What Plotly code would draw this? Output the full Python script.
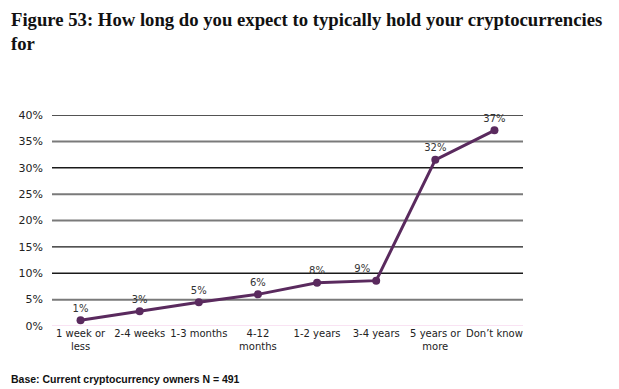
import plotly.graph_objects as go

categories = ["1 week or<br>less", "2-4 weeks", "1-3 months", "4-12<br>months",
              "1-2 years", "3-4 years", "5 years or<br>more", "Don\u2019t know"]
values = [1.1, 2.8, 4.5, 6.0, 8.2, 8.6, 31.5, 37.1]
labels = ["1%", "3%", "5%", "6%", "8%", "9%", "32%", "37%"]
label_positions = ["top center"] * 5 + ["top left"] + ["top center"] * 2
tick_vals = [0, 5, 10, 15, 20, 25, 30, 35, 40]
tick_text = ["0%", "5%", "10%", "15%", "20%", "25%", "30%", "35%", "40%"]
dark_grid = [10, 15, 30, 40]
grey_grid = [5, 20, 25, 35]

purple = "#5A2A5E"

# The page adds an 8px body margin, so the figure is drawn 8px smaller.
W, H = 611, 381
ML, MR, MT, MB = 44, 96, 107, 63
PW = W - ML - MR
PH = H - MT - MB

fig = go.Figure()
fig.add_trace(go.Scatter(
    x=categories, y=values, mode="lines+markers+text",
    text=labels, textposition=label_positions,
    textfont=dict(family="DejaVu Sans", size=10, color="#333333"),
    line=dict(color=purple, width=3),
    marker=dict(color=purple, size=8),
    cliponaxis=False, showlegend=False,
))

shapes = []
for v in dark_grid:
    shapes.append(dict(type="line", xref="paper", x0=0, x1=1, yref="y", y0=v, y1=v,
                       line=dict(color="#1a1a1a", width=1.3), layer="below"))
for v in grey_grid:
    shapes.append(dict(type="line", xref="paper", x0=0, x1=1, yref="y", y0=v, y1=v,
                       line=dict(color="#7a7a7a", width=2), layer="below"))
shapes.append(dict(type="line", xref="paper", x0=0, x1=1, yref="y", y0=0, y1=0,
                   line=dict(color="#f3c6e6", width=1), layer="below"))

fig.update_layout(
    width=W, height=H,
    margin=dict(l=ML, r=MR, t=MT, b=MB, autoexpand=False),
    paper_bgcolor="white", plot_bgcolor="white",
    shapes=shapes,
    xaxis=dict(type="category", showgrid=False, zeroline=False, showline=False,
               ticks="", tickfont=dict(family="DejaVu Sans", size=10, color="#222222"),
               tickangle=0),
    yaxis=dict(range=[0, 40], tickvals=tick_vals, ticktext=tick_text,
               showgrid=False, zeroline=False, showline=False, ticks="",
               tickfont=dict(family="DejaVu Sans", size=11, color="#222222"),
               ticklabelstandoff=8),
    annotations=[
        dict(text="<b>Figure 53: How long do you expect to typically hold your cryptocurrencies<br>for</b>",
             xref="paper", yref="paper", x=(1 - ML) / PW, y=1 + (MT + 1) / PH,
             xanchor="left", yanchor="top",
             align="left", showarrow=False,
             font=dict(family="Liberation Serif", size=18.7, color="#111111")),
        dict(text="<b>Base: Current cryptocurrency owners N = 491</b>",
             xref="paper", yref="paper", x=(1 - ML) / PW, y=-(363 - (H - MB)) / PH,
             xanchor="left", yanchor="top",
             align="left", showarrow=False,
             font=dict(family="Liberation Sans", size=10.5, color="#111111")),
    ],
)

fig.write_html("out.html")
